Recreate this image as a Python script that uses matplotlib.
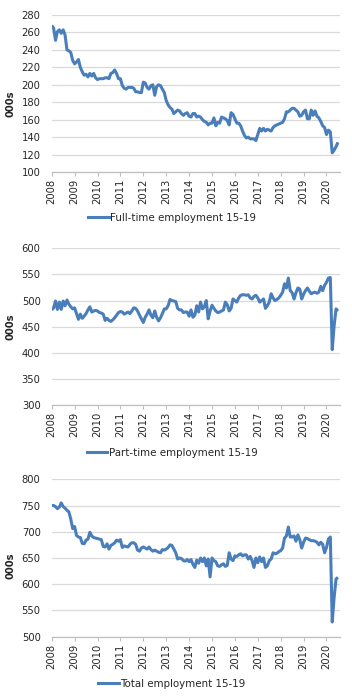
import numpy as np
import matplotlib
matplotlib.use("Agg")
import matplotlib.pyplot as plt
from matplotlib.lines import Line2D

# Monthly data, Jan 2008 - Jul 2020 (000s)
full_time = [
    268, 265, 251, 261, 263, 259, 263, 257, 240, 239, 237, 228,   # 2008
    224, 226, 229, 220, 215, 211, 212, 209, 213, 210, 213, 208,   # 2009
    206, 207, 207, 207, 208, 208, 207, 213, 214, 217, 213, 207,   # 2010
    207, 199, 196, 195, 197, 197, 197, 196, 192, 192, 191, 191,   # 2011
    203, 202, 197, 195, 199, 200, 188, 198, 200, 199, 195, 191,   # 2012
    182, 177, 174, 172, 167, 169, 171, 170, 167, 165, 167, 168,   # 2013
    164, 163, 167, 167, 163, 164, 163, 160, 158, 157, 154, 156,   # 2014
    156, 162, 153, 157, 156, 163, 162, 161, 159, 154, 168, 166,   # 2015
    161, 156, 156, 153, 147, 142, 139, 140, 138, 138, 138, 136,   # 2016
    143, 150, 147, 150, 147, 149, 148, 147, 151, 153, 154, 155,   # 2017
    156, 157, 161, 169, 169, 171, 173, 173, 171, 169, 164, 165,   # 2018
    169, 171, 161, 161, 171, 165, 170, 164, 162, 158, 153, 151,   # 2019
    143, 148, 146, 122, 125, 129, 134,                            # 2020
]
part_time = [
    482, 486, 499, 483, 497, 483, 499, 490, 501, 493, 488, 484,   # 2008
    486, 475, 464, 474, 466, 470, 475, 482, 488, 478, 480, 481,   # 2009
    480, 477, 476, 474, 462, 466, 462, 460, 463, 467, 472, 477,   # 2010
    479, 478, 474, 476, 478, 475, 480, 486, 485, 480, 472, 465,   # 2011
    458, 468, 474, 482, 472, 467, 480, 468, 461, 467, 475, 484,   # 2012
    484, 490, 502, 500, 499, 498, 485, 482, 482, 477, 478, 478,   # 2013
    470, 482, 468, 472, 490, 478, 497, 484, 488, 500, 465, 480,   # 2014
    491, 485, 480, 477, 478, 480, 482, 497, 492, 480, 485, 503,   # 2015
    500, 497, 505, 510, 511, 511, 510, 511, 505, 503, 508, 510,   # 2016
    505, 497, 500, 503, 485, 490, 497, 513, 505, 500, 502, 505,   # 2017
    510, 516, 532, 524, 543, 519, 515, 503, 515, 524, 522, 503,   # 2018
    512, 519, 524, 518, 513, 515, 516, 514, 516, 527, 519, 529,   # 2019
    535, 543, 544, 406, 452, 484, 480,                            # 2020
]
total = [
    750, 750, 748, 744, 747, 755, 748, 745, 741, 738, 724, 706,   # 2008
    710, 693, 690, 689, 678, 677, 684, 686, 699, 692, 689, 688,   # 2009
    687, 686, 685, 672, 671, 677, 667, 674, 676, 679, 684, 682,   # 2010
    685, 670, 673, 672, 671, 676, 679, 679, 676, 665, 663, 669,   # 2011
    671, 669, 667, 671, 666, 663, 665, 663, 661, 660, 666, 665,   # 2012
    667, 670, 675, 674, 667, 660, 648, 650, 649, 645, 644, 647,   # 2013
    643, 647, 638, 632, 646, 640, 650, 643, 650, 635, 648, 614,   # 2014
    650, 645, 643, 635, 634, 637, 639, 634, 636, 660, 648, 645,   # 2015
    654, 653, 656, 658, 654, 656, 656, 648, 653, 645, 632, 650,   # 2016
    641, 652, 643, 650, 632, 635, 645, 648, 660, 658, 659, 662,   # 2017
    664, 669, 688, 692, 709, 690, 690, 692, 682, 694, 685, 669,   # 2018
    680, 688, 687, 685, 683, 683, 682, 680, 675, 680, 676, 660,   # 2019
    670, 686, 690, 528, 575, 610, 613,                            # 2020
]
series_names = ["Full-time employment 15-19",
                "Part-time employment 15-19",
                "Total employment 15-19"]
years = list(range(2008, 2021))
y_ticks = [list(range(100, 281, 20)), list(range(300, 601, 50)), list(range(500, 801, 50))]

start_year = 2008
x = start_year + np.arange(len(full_time)) / 12.0

W, H = 352, 699
fig = plt.figure(figsize=(W / 100, H / 100), dpi=100)
plt.rcParams['font.family'] = ['DejaVu Sans']

line_color = '#4a7ebb'
grid_color = '#d9d9d9'
text_color = '#262626'

# (top_px, bottom_px) of each plot area
panels = [(15, 172), (248.3, 405), (479.3, 636.7)]
label_y_px = [104, 327, 566]
legend_y_px = [218, 453, 684]
left_px, right_px = 51.7, 340
data = [full_time, part_time, total]

for k in range(3):
    top, bot = panels[k]
    ax = fig.add_axes([left_px / W, 1 - bot / H, (right_px - left_px) / W, (bot - top) / H])
    ax.plot(x, data[k], color=line_color, lw=2.2, solid_joinstyle='round', solid_capstyle='butt')
    ax.set_xlim(2008, 2008 + (right_px - left_px) / 22.9)
    ax.set_ylim(y_ticks[k][0], y_ticks[k][-1])
    ax.set_yticks(y_ticks[k])
    ax.set_xticks(years)
    ax.set_xticklabels([str(y) for y in years], rotation=90)
    ax.grid(axis='y', color=grid_color, lw=0.9)
    ax.set_axisbelow(True)
    for s in ['top', 'right', 'left']:
        ax.spines[s].set_visible(False)
    ax.spines['bottom'].set_color('#bfbfbf')
    ax.spines['bottom'].set_linewidth(0.9)
    ax.tick_params(axis='y', length=0, labelsize=7.2, colors=text_color, pad=8)
    ax.tick_params(axis='x', length=3, width=0.8, color='#bfbfbf', labelsize=7.2,
                   labelcolor=text_color, pad=2)
    ax.set_ylabel('000s', fontsize=7.2, fontweight='bold', color=text_color,
                  va='center')
    ax.yaxis.set_label_coords((11 - left_px) / (right_px - left_px),
                              (bot - label_y_px[k]) / (bot - top))
    handle = Line2D([], [], color=line_color, lw=2.2)
    fig.legend([handle], [series_names[k]], loc='center',
               bbox_to_anchor=(172 / W, 1 - legend_y_px[k] / H),
               frameon=False, fontsize=7.4, handlelength=2.0, handletextpad=0.15,
               labelcolor=text_color, borderpad=0)

fig.savefig('out.png', dpi=100)
